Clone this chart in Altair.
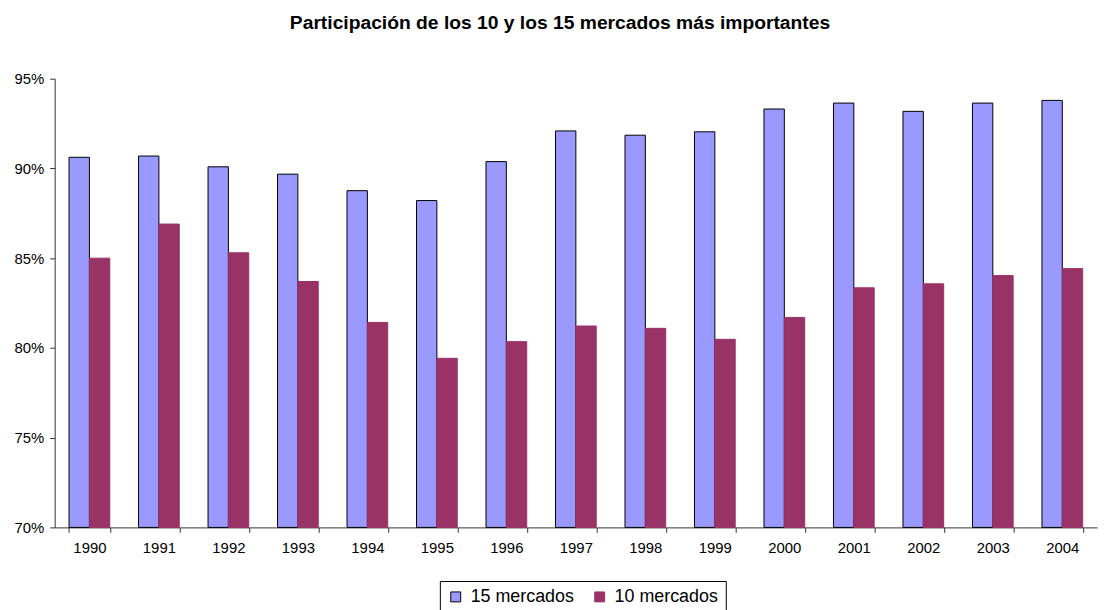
import altair as alt
import pandas as pd

years = [str(y) for y in range(1990, 2005)]
m15 = [90.62, 90.69, 90.09, 89.68, 88.76, 88.21, 90.38, 92.09, 91.85, 92.04, 93.31, 93.64, 93.18, 93.64, 93.79]
m10 = [85.00, 86.90, 85.30, 83.70, 81.42, 79.42, 80.35, 81.22, 81.09, 80.48, 81.70, 83.35, 83.57, 84.03, 84.42]
series = ["15 mercados", "10 mercados"]
fills = ["#9999FF", "#993366"]
strokes = ["#000000", "#993366"]
y_ticks = [0.70, 0.75, 0.80, 0.85, 0.90, 0.95]

rows = []
for i, y in enumerate(years):
    rows.append({"year": y, "serie": series[0], "value": m15[i] / 100})
    rows.append({"year": y, "serie": series[1], "value": m10[i] / 100})
df = pd.DataFrame(rows)

FONT = "Liberation Sans, Arial, sans-serif"

leg = alt.Legend(
    title=None, orient="none", legendX=388, legendY=506, direction="horizontal",
    strokeColor="#000000", padding=7, symbolType="square", symbolSize=100,
    symbolStrokeWidth=1, labelFontSize=18, labelFont=FONT, labelColor="#000000",
    columnPadding=16, labelOffset=6, fillColor="#ffffff",
)

chart = alt.Chart(df).mark_bar(strokeWidth=1).encode(
    x=alt.X("year:N", sort=years, title=None,
            scale=alt.Scale(paddingInner=0.414, paddingOuter=0.207),
            axis=alt.Axis(labelAngle=0, tickBand="extent", tickSize=5, labelPadding=8)),
    xOffset=alt.XOffset("serie:N", sort=series, scale=alt.Scale(paddingInner=0, paddingOuter=0)),
    y=alt.Y("value:Q", title=None,
            scale=alt.Scale(domain=[0.70, 0.95], nice=False, zero=False),
            axis=alt.Axis(format=".0%", values=y_ticks, grid=False, tickSize=5, labelPadding=6)),
    y2=alt.datum(0.70),
    color=alt.Color("serie:N", sort=series, scale=alt.Scale(domain=series, range=fills), legend=leg),
    stroke=alt.Stroke("serie:N", sort=series, scale=alt.Scale(domain=series, range=strokes), legend=leg),
).properties(
    width=1050, height=452,
    title=alt.Title("Participación de los 10 y los 15 mercados más importantes",
                    font=FONT, fontSize=19.4, fontWeight="bold", color="#000000",
                    anchor="middle", dx=-16, offset=39),
    autosize=alt.AutoSizeParams(type="none"),
    padding={"left": 47, "top": 69, "right": 9, "bottom": 81},
).configure_view(stroke=None).configure_axis(
    domainColor="#333333", tickColor="#333333", labelColor="#000000",
    labelFont=FONT, labelFontSize=15,
)

chart.save("out.html", embed_options={"renderer": "svg", "actions": False})
